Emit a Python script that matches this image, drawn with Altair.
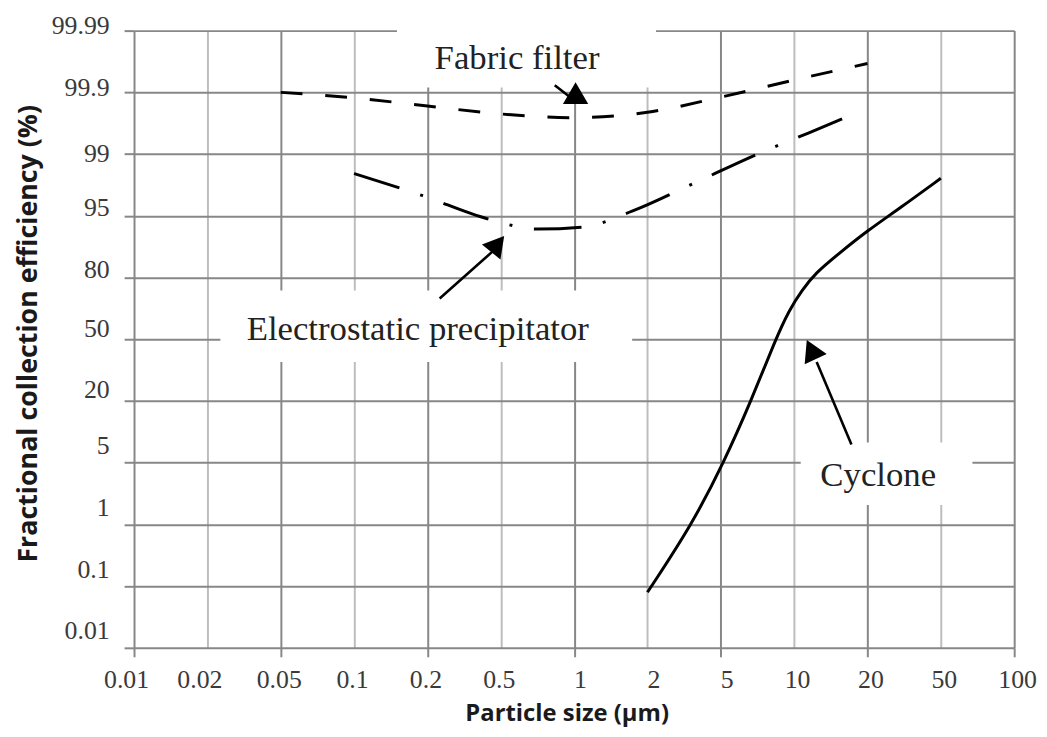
import altair as alt
import numpy as np
import pandas as pd

# Axis ticks (evenly spaced on the chart)
size_ticks = [0.01, 0.02, 0.05, 0.1, 0.2, 0.5, 1, 2, 5, 10, 20, 50, 100]
size_labels = ["0.01", "0.02", "0.05", "0.1", "0.2", "0.5", "1", "2", "5", "10", "20", "50", "100"]
eff_ticks = [0.01, 0.1, 1, 5, 20, 50, 80, 95, 99, 99.9, 99.99]
eff_labels = ["0.01", "0.1", "1", "5", "20", "50", "80", "95", "99", "99.9", "99.99"]

# Fabric filter (dashed)
ff_size = [0.05, 0.1, 0.2, 0.5, 1, 2, 5, 10, 20]
ff_eff = [99.9, 99.82, 99.70, 99.585, 99.53, 99.61, 99.83, 99.918, 99.942]

# Electrostatic precipitator (dash-dot)
esp_size = [0.1, 0.19, 0.43, 0.71, 1.09, 1.73, 3.74, 7.46, 11.5, 17.5]
esp_eff = [97.74, 96.32, 94.18, 91.77, 92.26, 95.30, 97.22, 99.035, 99.31, 99.585]

# Cyclone (solid)
cyc_size = [2.0, 3.49, 5.14, 6.66, 8.39, 9.55, 10.78, 12.18, 15.24, 20, 29.7, 50]
cyc_eff = [0.091, 1.0, 5.0, 20.0, 50.0, 64.3, 73.8, 81.0, 85.8, 91.4, 95.46, 97.43]


def size_pos(v):
    return np.interp(np.log10(v), np.log10(size_ticks), np.arange(len(size_ticks)))


def eff_pos(v):
    return np.interp(v, eff_ticks, np.arange(len(eff_ticks)))


def curve(sizes, effs):
    return pd.DataFrame({"xi": size_pos(np.array(sizes, dtype=float)),
                         "yi": eff_pos(np.array(effs, dtype=float)),
                         "ord": np.arange(len(sizes))})


size_arr = "[" + ",".join("'%s'" % s for s in size_labels) + "]"
eff_arr = "[" + ",".join("'%s'" % s for s in eff_labels) + "]"

xscale = alt.Scale(domain=[0, len(size_ticks) - 1], nice=False, zero=False)
yscale = alt.Scale(domain=[0, len(eff_ticks) - 1], nice=False, zero=False)

DARK = "#878787"
LIGHT = "#bdbdbd"

xaxis = alt.Axis(
    values=list(range(len(size_ticks))),
    labelExpr=size_arr + "[datum.value]",
    domain=False,
    grid=True,
    gridColor={"condition": {"test": "datum.value % 2 == 0", "value": DARK}, "value": LIGHT},
    gridWidth=2,
    ticks=True,
    tickSize=9,
    tickWidth=2,
    tickColor={"condition": {"test": "datum.value % 2 == 0", "value": DARK}, "value": "transparent"},
    labelFont="Liberation Serif",
    labelFontSize=26,
    labelColor="#3a3a3a",
    labelPadding=10,
    labelFlush=False,
    labelOverlap=False,
    labelOffset={"condition": [
        {"test": "datum.value <= 1", "value": -8},
        {"test": "datum.value <= 5", "value": -2},
        {"test": "datum.value <= 8", "value": 6}], "value": 3},
    title="Particle size (μm)",
    titleFont="Open Sans",
    titleFontSize=24,
    titleFontWeight="bold",
    titleColor="#1a1a1a",
    titleX=436,
    titleY=73,
    titleAlign="center",
    titleBaseline="alphabetic",
)

yaxis = alt.Axis(
    values=list(range(len(eff_ticks))),
    labelExpr=eff_arr + "[datum.value]",
    domain=False,
    grid=True,
    gridColor=DARK,
    gridWidth=2,
    ticks=True,
    tickSize=10,
    tickWidth=2,
    tickColor=DARK,
    labelFont="Liberation Serif",
    labelFontSize=26,
    labelColor="#3a3a3a",
    labelPadding=15,
    labelOverlap=False,
    labelAlign="right",
    labelBaseline="middle",
    labelOffset={"condition": [
        {"test": "datum.value <= 3", "value": -17},
        {"test": "datum.value <= 5", "value": -11},
        {"test": "datum.value <= 7", "value": -8},
        {"test": "datum.value == 8", "value": -1}], "value": -5},
    title="Fractional collection efficiency (%)",
    titleFont="Open Sans",
    titleFontSize=27,
    titleFontWeight="bold",
    titleColor="#1a1a1a",
    titleAngle=270,
    titleX=-106,
    titleY=305,
    titleAlign="center",
    titleBaseline="middle",
)


def X(field):
    return alt.X(field, type="quantitative", scale=xscale, axis=xaxis)


def Y(field):
    return alt.Y(field, type="quantitative", scale=yscale, axis=yaxis)


# White label boxes that hide the grid behind the annotations
boxes = pd.DataFrame({
    "x1": [3.585, 1.177, 9.09],
    "x2": [7.116, 6.791, 11.431],
    "y1": [10.16, 5.788, 3.328],
    "y2": [9.08, 4.630, 2.315],
})
box_layer = alt.Chart(boxes).mark_rect(fill="white", stroke=None).encode(
    x=X("x1"), x2="x2", y=Y("y1"), y2="y2")

ff = alt.Chart(curve(ff_size, ff_eff)).mark_line(
    interpolate="monotone", color="black", strokeWidth=3, strokeDash=[22, 23]
).encode(x=X("xi"), y=Y("yi"), order="ord:Q")

esp = alt.Chart(curve(esp_size, esp_eff)).mark_line(
    interpolate="monotone", color="black", strokeWidth=3, strokeDash=[48, 22, 3, 22]
).encode(x=X("xi"), y=Y("yi"), order="ord:Q")

cyc = alt.Chart(curve(cyc_size, cyc_eff)).mark_line(
    interpolate="basis", color="black", strokeWidth=3
).encode(x=X("xi"), y=Y("yi"), order="ord:Q")

# Arrow shafts
shafts = pd.DataFrame({
    "x1": [5.736, 4.167, 9.781],
    "y1": [9.116, 5.659, 3.296],
    "x2": [5.925, 4.897, 9.307],
    "y2": [8.939, 6.431, 4.630],
})
shaft_layer = alt.Chart(shafts).mark_rule(color="black", strokeWidth=2.6).encode(
    x=X("x1"), x2="x2", y=Y("y1"), y2="y2")

# Arrow heads
heads = [
    (6.02, 8.987, 0, 650),
    (4.958, 6.543, 39, 576),
    (9.233, 4.833, 335, 600),
]
head_layers = []
for hx, hy, ang, sz in heads:
    head_layers.append(
        alt.Chart(pd.DataFrame({"xi": [hx], "yi": [hy]})).mark_point(
            shape="triangle-up", filled=True, color="black", opacity=1,
            size=sz, angle=ang, strokeWidth=0
        ).encode(x=X("xi"), y=Y("yi"))
    )

# Annotation texts
texts = pd.DataFrame({
    "xi": [5.222, 3.869, 10.146],
    "yi": [9.373, 4.984, 2.621],
    "label": ["Fabric filter", "Electrostatic precipitator", "Cyclone"],
})
text_layer = alt.Chart(texts).mark_text(
    font="Liberation Serif", fontSize=35, align="center", baseline="alphabetic", color="#222222"
).encode(x=X("xi"), y=Y("yi"), text="label:N")

chart = alt.layer(
    box_layer, ff, esp, cyc, shaft_layer, *head_layers, text_layer
).properties(
    width=887,
    height=622,
    padding={"left": 127, "top": 20, "right": 25, "bottom": 79},
    autosize=alt.AutoSizeParams(type="none"),
    background="white",
).configure_view(stroke=None)

chart.save("out.html", embed_options={"renderer": "svg", "actions": False})
